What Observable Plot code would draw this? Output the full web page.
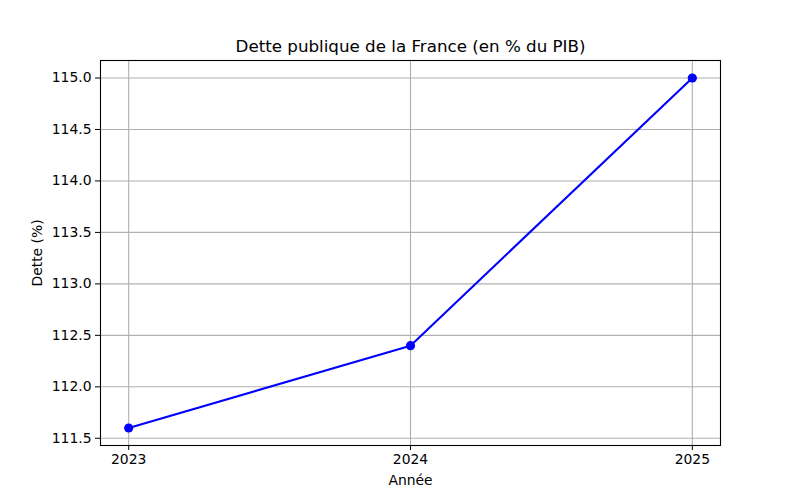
<!DOCTYPE html>
<html>
<head>
<meta charset="utf-8">
<script src="https://cdn.jsdelivr.net/npm/d3@7"></script>
<script src="https://cdn.jsdelivr.net/npm/@observablehq/plot@0.6"></script>
<style>
  html, body { margin: 0; padding: 0; background: #fff; }
</style>
</head>
<body>
<div id="chart"></div>
<script>
const years = [2023, 2024, 2025];
const debt = [111.6, 112.4, 115.0];
const yTicks = [111.5, 112.0, 112.5, 113.0, 113.5, 114.0, 114.5, 115.0];
const xTicks = [2023, 2024, 2025];
const title = "Dette publique de la France (en % du PIB)";
const xLabel = "Année";
const yLabel = "Dette (%)";

const data = years.map((y, i) => ({year: y, value: debt[i]}));

const chart = Plot.plot({
  width: 800,
  height: 500,
  marginLeft: 100,
  marginRight: 80,
  marginTop: 60,
  marginBottom: 55,
  style: {fontFamily: "DejaVu Sans", fontSize: "13.9px", color: "#000", background: "#fff"},
  x: {domain: [2022.9, 2025.1]},
  y: {domain: [111.43, 115.17]},
  marks: [
    Plot.gridX(xTicks, {stroke: "#b0b0b0", strokeOpacity: 1, strokeWidth: 1.1}),
    Plot.gridY(yTicks, {stroke: "#b0b0b0", strokeOpacity: 1, strokeWidth: 1.1}),
    Plot.frame({stroke: "#000", strokeWidth: 1.1}),
    Plot.axisX({ticks: xTicks, tickFormat: d => String(d), tickSize: 5, tickPadding: 4, label: null}),
    Plot.axisY({ticks: yTicks, tickFormat: d => d.toFixed(1), tickSize: 5, tickPadding: 4, label: null}),
    Plot.text([xLabel], {frameAnchor: "bottom", lineAnchor: "middle", dy: 35, text: d => d, fontSize: 13.9}),
    Plot.text([yLabel], {frameAnchor: "left", textAnchor: "middle", lineAnchor: "middle", dx: -63, rotate: -90, text: d => d, fontSize: 13.9}),
    Plot.text([title], {frameAnchor: "top", lineAnchor: "middle", dy: -14, text: d => d, fontSize: 16.7}),
    Plot.line(data, {x: "year", y: "value", stroke: "#0000ff", strokeWidth: 2.08}),
    Plot.dot(data, {x: "year", y: "value", fill: "#0000ff", r: 4.6, stroke: "none"})
  ]
});
document.getElementById("chart").appendChild(chart);
</script>
</body>
</html>
